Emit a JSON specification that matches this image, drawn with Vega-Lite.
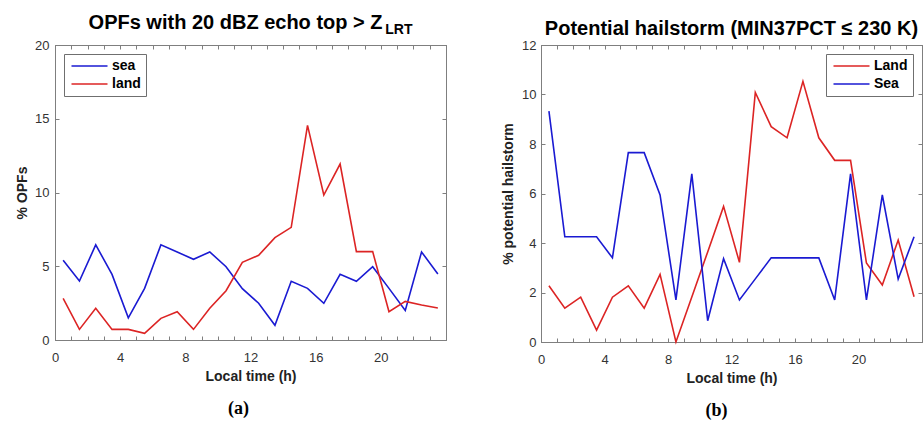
{
  "$schema": "https://vega.github.io/schema/vega-lite/v6.json",
  "padding": {"left": 15, "top": 12, "right": 0, "bottom": 0},
  "background": "white",
  "config": {
    "font": "Liberation Sans",
    "view": {"stroke": "#7f7f7f", "strokeWidth": 1},
    "axis": {
      "grid": false,
      "domainColor": "#7f7f7f",
      "tickColor": "#7f7f7f",
      "tickSize": -4,
      "tickWidth": 1,
      "labelFont": "Liberation Sans",
      "labelFontSize": 13,
      "labelColor": "#333333",
      "titleFont": "Liberation Sans",
      "titleFontSize": 14,
      "titleFontWeight": "bold",
      "titleColor": "#222222"
    },
    "title": {"font": "Liberation Sans", "fontSize": 20, "fontWeight": "bold", "color": "black"}
  },
  "datasets": {
    "opf": [
      {"hour": 0.5, "pct": 5.4, "region": "sea"},
      {"hour": 1.5, "pct": 4.0, "region": "sea"},
      {"hour": 2.5, "pct": 6.45, "region": "sea"},
      {"hour": 3.5, "pct": 4.45, "region": "sea"},
      {"hour": 4.5, "pct": 1.5, "region": "sea"},
      {"hour": 5.5, "pct": 3.5, "region": "sea"},
      {"hour": 6.5, "pct": 6.45, "region": "sea"},
      {"hour": 7.5, "pct": 5.97, "region": "sea"},
      {"hour": 8.5, "pct": 5.47, "region": "sea"},
      {"hour": 9.5, "pct": 5.97, "region": "sea"},
      {"hour": 10.5, "pct": 4.97, "region": "sea"},
      {"hour": 11.5, "pct": 3.48, "region": "sea"},
      {"hour": 12.5, "pct": 2.49, "region": "sea"},
      {"hour": 13.5, "pct": 1.0, "region": "sea"},
      {"hour": 14.5, "pct": 3.98, "region": "sea"},
      {"hour": 15.5, "pct": 3.5, "region": "sea"},
      {"hour": 16.5, "pct": 2.49, "region": "sea"},
      {"hour": 17.5, "pct": 4.45, "region": "sea"},
      {"hour": 18.5, "pct": 3.98, "region": "sea"},
      {"hour": 19.5, "pct": 4.97, "region": "sea"},
      {"hour": 20.5, "pct": 3.5, "region": "sea"},
      {"hour": 21.5, "pct": 2.0, "region": "sea"},
      {"hour": 22.5, "pct": 5.97, "region": "sea"},
      {"hour": 23.5, "pct": 4.47, "region": "sea"},
      {"hour": 0.5, "pct": 2.82, "region": "land"},
      {"hour": 1.5, "pct": 0.72, "region": "land"},
      {"hour": 2.5, "pct": 2.15, "region": "land"},
      {"hour": 3.5, "pct": 0.72, "region": "land"},
      {"hour": 4.5, "pct": 0.72, "region": "land"},
      {"hour": 5.5, "pct": 0.45, "region": "land"},
      {"hour": 6.5, "pct": 1.47, "region": "land"},
      {"hour": 7.5, "pct": 1.92, "region": "land"},
      {"hour": 8.5, "pct": 0.72, "region": "land"},
      {"hour": 9.5, "pct": 2.15, "region": "land"},
      {"hour": 10.5, "pct": 3.34, "region": "land"},
      {"hour": 11.5, "pct": 5.27, "region": "land"},
      {"hour": 12.5, "pct": 5.74, "region": "land"},
      {"hour": 13.5, "pct": 6.94, "region": "land"},
      {"hour": 14.5, "pct": 7.64, "region": "land"},
      {"hour": 15.5, "pct": 14.55, "region": "land"},
      {"hour": 16.5, "pct": 9.83, "region": "land"},
      {"hour": 17.5, "pct": 11.93, "region": "land"},
      {"hour": 18.5, "pct": 5.99, "region": "land"},
      {"hour": 19.5, "pct": 5.99, "region": "land"},
      {"hour": 20.5, "pct": 1.92, "region": "land"},
      {"hour": 21.5, "pct": 2.62, "region": "land"},
      {"hour": 22.5, "pct": 2.37, "region": "land"},
      {"hour": 23.5, "pct": 2.17, "region": "land"}
    ],
    "hail": [
      {"hour": 0.5, "pct": 2.27, "region": "Land"},
      {"hour": 1.5, "pct": 1.37, "region": "Land"},
      {"hour": 2.5, "pct": 1.81, "region": "Land"},
      {"hour": 3.5, "pct": 0.48, "region": "Land"},
      {"hour": 4.5, "pct": 1.81, "region": "Land"},
      {"hour": 5.5, "pct": 2.27, "region": "Land"},
      {"hour": 6.5, "pct": 1.37, "region": "Land"},
      {"hour": 7.5, "pct": 2.73, "region": "Land"},
      {"hour": 8.5, "pct": 0.0, "region": "Land"},
      {"hour": 9.5, "pct": 1.82, "region": "Land"},
      {"hour": 10.5, "pct": 3.64, "region": "Land"},
      {"hour": 11.5, "pct": 5.48, "region": "Land"},
      {"hour": 12.5, "pct": 3.22, "region": "Land"},
      {"hour": 13.5, "pct": 10.08, "region": "Land"},
      {"hour": 14.5, "pct": 8.7, "region": "Land"},
      {"hour": 15.5, "pct": 8.25, "region": "Land"},
      {"hour": 16.5, "pct": 10.53, "region": "Land"},
      {"hour": 17.5, "pct": 8.25, "region": "Land"},
      {"hour": 18.5, "pct": 7.34, "region": "Land"},
      {"hour": 19.5, "pct": 7.34, "region": "Land"},
      {"hour": 20.5, "pct": 3.19, "region": "Land"},
      {"hour": 21.5, "pct": 2.3, "region": "Land"},
      {"hour": 22.5, "pct": 4.12, "region": "Land"},
      {"hour": 23.5, "pct": 1.83, "region": "Land"},
      {"hour": 0.5, "pct": 9.33, "region": "Sea"},
      {"hour": 1.5, "pct": 4.25, "region": "Sea"},
      {"hour": 2.5, "pct": 4.25, "region": "Sea"},
      {"hour": 3.5, "pct": 4.25, "region": "Sea"},
      {"hour": 4.5, "pct": 3.4, "region": "Sea"},
      {"hour": 5.5, "pct": 7.65, "region": "Sea"},
      {"hour": 6.5, "pct": 7.65, "region": "Sea"},
      {"hour": 7.5, "pct": 5.94, "region": "Sea"},
      {"hour": 8.5, "pct": 1.7, "region": "Sea"},
      {"hour": 9.5, "pct": 6.79, "region": "Sea"},
      {"hour": 10.5, "pct": 0.86, "region": "Sea"},
      {"hour": 11.5, "pct": 3.37, "region": "Sea"},
      {"hour": 12.5, "pct": 1.7, "region": "Sea"},
      {"hour": 13.5, "pct": 2.55, "region": "Sea"},
      {"hour": 14.5, "pct": 3.4, "region": "Sea"},
      {"hour": 15.5, "pct": 3.4, "region": "Sea"},
      {"hour": 16.5, "pct": 3.4, "region": "Sea"},
      {"hour": 17.5, "pct": 3.4, "region": "Sea"},
      {"hour": 18.5, "pct": 1.7, "region": "Sea"},
      {"hour": 19.5, "pct": 6.79, "region": "Sea"},
      {"hour": 20.5, "pct": 1.7, "region": "Sea"},
      {"hour": 21.5, "pct": 5.94, "region": "Sea"},
      {"hour": 22.5, "pct": 2.54, "region": "Sea"},
      {"hour": 23.5, "pct": 4.25, "region": "Sea"}
    ]
  },
  "bounds": "flush",
  "spacing": 95,
  "resolve": {"scale": {"color": "independent"}, "legend": {"color": "independent"}},
  "hconcat": [
    {
      "width": 391,
      "height": 295,
      "data": {"name": "opf"},
      "title": {
        "text": "OPFs with 20 dBZ echo top > Z\u2800\u2800",
        "subtitle": "LRT",
        "anchor": "end",
        "dx": -34,
        "subtitleFont": "Liberation Sans",
        "subtitleFontSize": 14,
        "subtitleFontWeight": "bold",
        "subtitleColor": "black",
        "subtitlePadding": -10,
        "offset": 2
      },
      "layer": [
        {
          "mark": {"type": "line", "strokeWidth": 1.6},
          "encoding": {
            "x": {"field": "hour", "type": "quantitative", "scale": {"domain": [0, 24], "nice": false},
              "axis": {"values": [0,1,2,3,4,5,6,7,8,9,10,11,12,13,14,15,16,17,18,19,20,21,22,23,24],
                "labelExpr": "datum.value % 4 == 0 && datum.value < 24 ? datum.label : ''",
                "labelFlush": false, "labelOverlap": false, "labelPadding": 15,
                "title": "Local time (h)", "titlePadding": 5}},
            "y": {"field": "pct", "type": "quantitative", "scale": {"domain": [0, 20], "nice": false},
              "axis": {"values": [0, 5, 10, 15, 20], "labelPadding": 10, "title": "% OPFs", "titlePadding": 5}},
            "color": {"field": "region", "type": "nominal",
              "scale": {"domain": ["sea", "land"], "range": ["#1a1ad2", "#dc2424"]},
              "legend": {"orient": "top-left", "offset": 9, "title": null,
                "strokeColor": "#6f6f6f", "fillColor": "white", "padding": 5,
                "symbolType": "M-1,0H7", "symbolSize": 81, "symbolStrokeWidth": 1.6,
                "labelOffset": 29, "labelFont": "Liberation Sans", "labelFontSize": 14,
                "labelFontWeight": "bold", "labelColor": "black", "rowPadding": 4}}
          }
        },
        {
          "mark": {"type": "line", "opacity": 0},
          "encoding": {
            "x": {"field": "hour", "type": "quantitative",
              "axis": {"orient": "top", "values": [0,1,2,3,4,5,6,7,8,9,10,11,12,13,14,15,16,17,18,19,20,21,22,23,24],
                "labels": false, "title": null}},
            "y": {"field": "pct", "type": "quantitative",
              "axis": {"orient": "right", "values": [0, 5, 10, 15, 20], "labels": false, "title": null}}
          }
        },
        {
          "mark": {"type": "line", "opacity": 0},
          "encoding": {
            "x": {"field": "hour", "type": "quantitative",
              "axis": {"orient": "bottom", "domain": false, "ticks": false, "labels": false,
                "title": "(a)", "titleFont": "Liberation Serif", "titleFontSize": 18,
                "titleFontWeight": "bold", "titleColor": "black", "titlePadding": 59, "titleX": 183}},
            "y": {"field": "pct", "type": "quantitative", "axis": null}
          }
        }
      ],
      "resolve": {"axis": {"x": "independent", "y": "independent"}}
    },
    {
      "width": 381,
      "height": 297,
      "data": {"name": "hail"},
      "title": {"text": "Potential hailstorm (MIN37PCT \u2264 230 K)", "anchor": "middle", "offset": 0},
      "layer": [
        {
          "mark": {"type": "line", "strokeWidth": 1.6},
          "encoding": {
            "x": {"field": "hour", "type": "quantitative", "scale": {"domain": [0, 24], "nice": false},
              "axis": {"values": [0,1,2,3,4,5,6,7,8,9,10,11,12,13,14,15,16,17,18,19,20,21,22,23,24],
                "labelExpr": "datum.value % 4 == 0 && datum.value < 24 ? datum.label : ''",
                "labelFlush": false, "labelOverlap": false, "labelPadding": 15,
                "title": "Local time (h)", "titlePadding": 5}},
            "y": {"field": "pct", "type": "quantitative", "scale": {"domain": [0, 12], "nice": false},
              "axis": {"values": [0, 2, 4, 6, 8, 10, 12], "labelPadding": 9, "title": "% potential hailstorm", "titlePadding": 6}},
            "color": {"field": "region", "type": "nominal",
              "scale": {"domain": ["Land", "Sea"], "range": ["#dc2424", "#1a1ad2"]},
              "legend": {"orient": "top-right", "offset": 9, "title": null,
                "strokeColor": "#6f6f6f", "fillColor": "white", "padding": 5,
                "symbolType": "M-1,0H7", "symbolSize": 81, "symbolStrokeWidth": 1.6,
                "labelOffset": 29, "labelFont": "Liberation Sans", "labelFontSize": 14,
                "labelFontWeight": "bold", "labelColor": "black", "rowPadding": 4}}
          }
        },
        {
          "mark": {"type": "line", "opacity": 0},
          "encoding": {
            "x": {"field": "hour", "type": "quantitative",
              "axis": {"orient": "top", "values": [0,1,2,3,4,5,6,7,8,9,10,11,12,13,14,15,16,17,18,19,20,21,22,23,24],
                "labels": false, "title": null}},
            "y": {"field": "pct", "type": "quantitative",
              "axis": {"orient": "right", "values": [0, 2, 4, 6, 8, 10, 12], "labels": false, "title": null}}
          }
        },
        {
          "mark": {"type": "line", "opacity": 0},
          "encoding": {
            "x": {"field": "hour", "type": "quantitative",
              "axis": {"orient": "bottom", "domain": false, "ticks": false, "labels": false,
                "title": "(b)", "titleFont": "Liberation Serif", "titleFontSize": 18,
                "titleFontWeight": "bold", "titleColor": "black", "titlePadding": 59, "titleX": 175}},
            "y": {"field": "pct", "type": "quantitative", "axis": null}
          }
        }
      ],
      "resolve": {"axis": {"x": "independent", "y": "independent"}}
    }
  ]
}
